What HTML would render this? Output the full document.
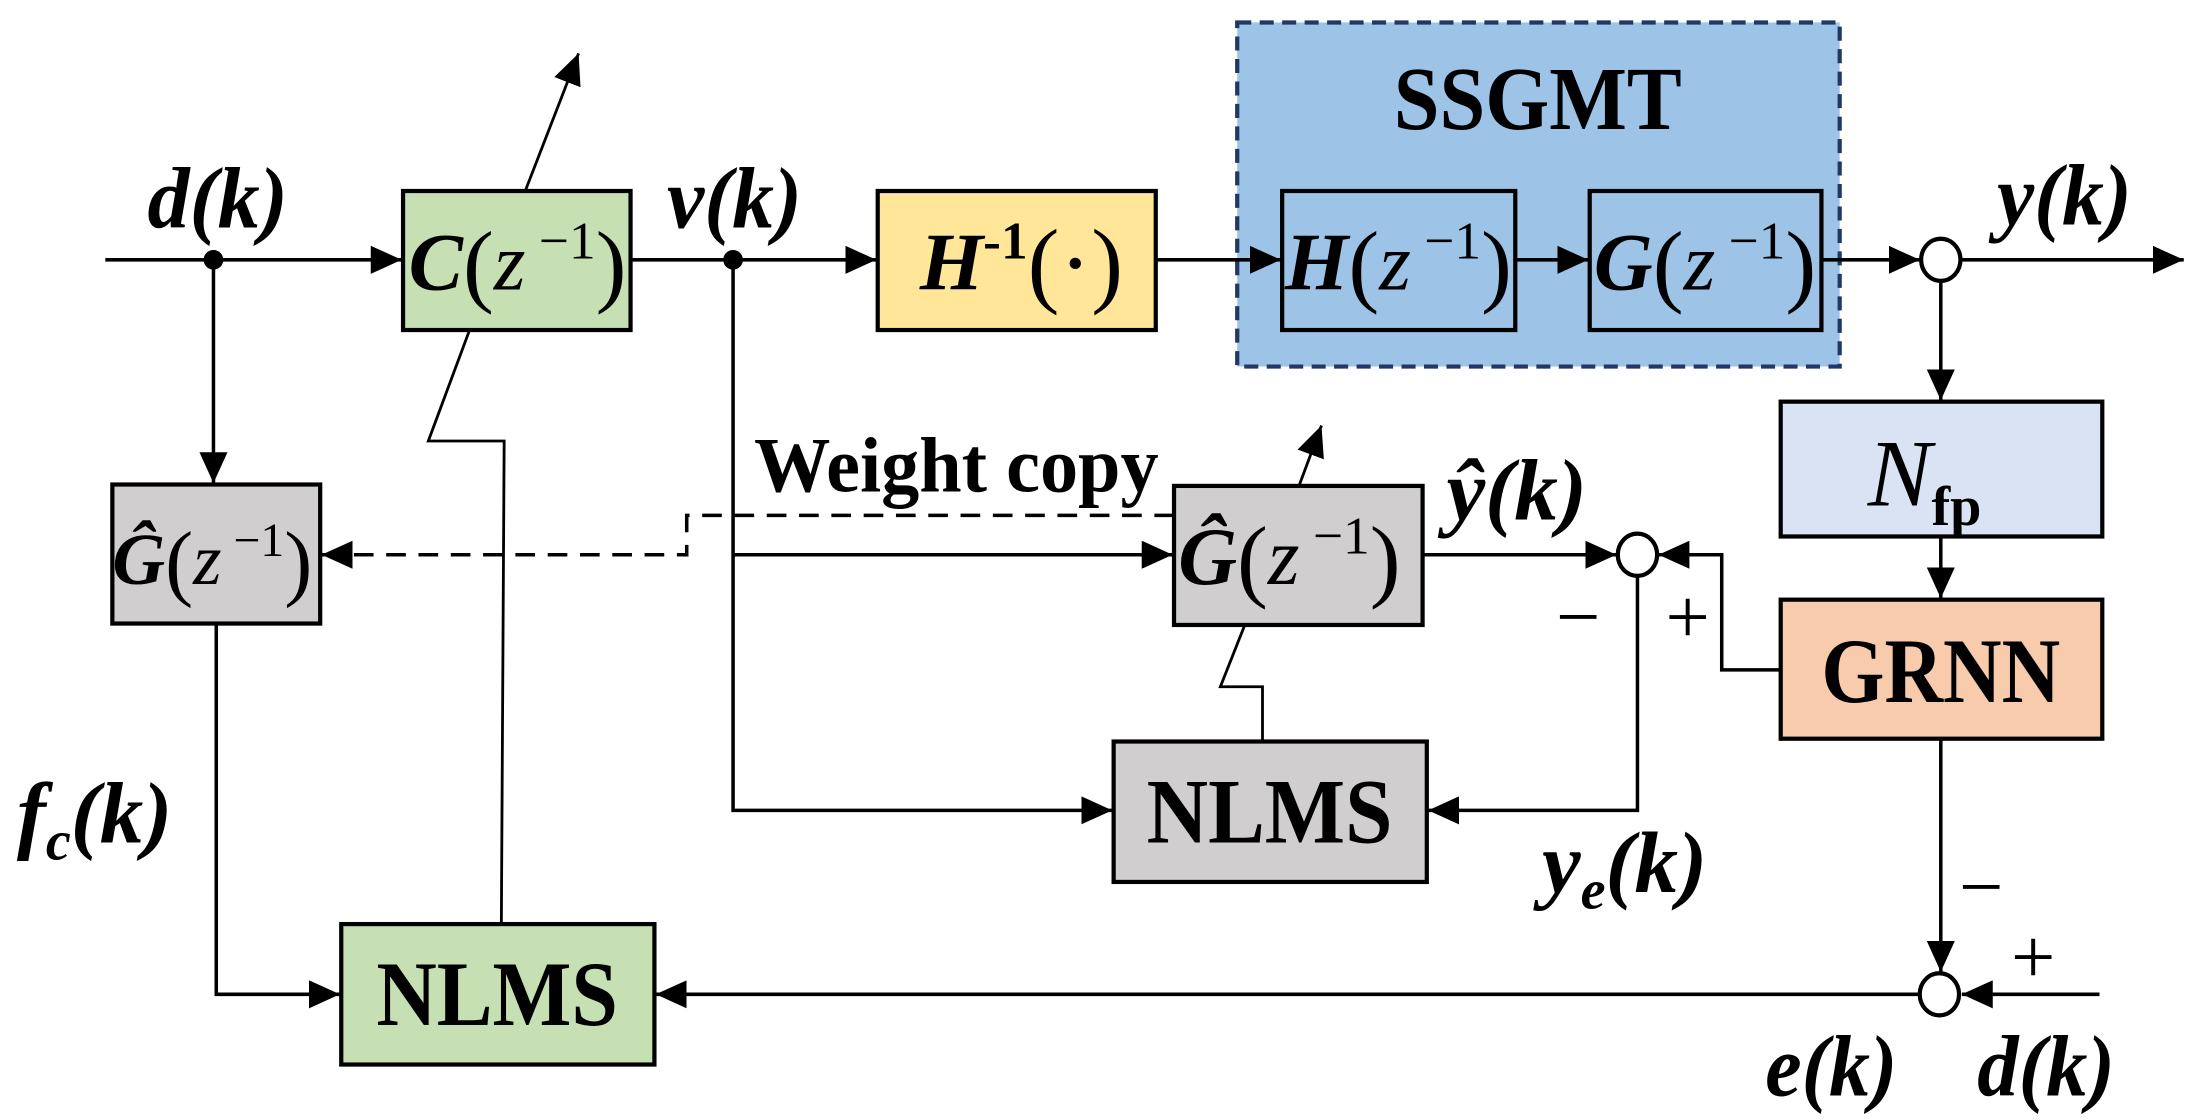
<!DOCTYPE html>
<html><head><meta charset="utf-8"><style>
html,body{margin:0;padding:0;background:#fff;}
svg{display:block;}
text{font-family:"Liberation Serif",serif;fill:#000;}
.bi{font-style:italic;font-weight:bold;}
.i{font-style:italic;}
.b{font-weight:bold;}
</style></head><body>
<svg width="2202" height="1120" viewBox="0 0 1568 797.5" preserveAspectRatio="none" xmlns="http://www.w3.org/2000/svg">
<defs>
<marker id="a" markerUnits="userSpaceOnUse" markerWidth="24" markerHeight="20" refX="22" refY="10" orient="auto">
<path d="M0,0 L22,10 L0,20 Z" fill="#000"/>
</marker>
</defs>
<rect x="881" y="16" width="429" height="245" fill="#9dc3e6" stroke="#1f3864" stroke-width="3" stroke-dasharray="10,6"/>
<text x="1095" y="92" font-size="64" text-anchor="middle" class="b" textLength="205" lengthAdjust="spacingAndGlyphs">SSGMT</text>

<rect x="287" y="136" width="162" height="99" fill="#c6e0b4" stroke="#000" stroke-width="3"/>
<rect x="625" y="136" width="198" height="99" fill="#ffe699" stroke="#000" stroke-width="3"/>
<rect x="913" y="136" width="166" height="99" fill="#9dc3e6" stroke="#000" stroke-width="3"/>
<rect x="1132" y="136" width="165" height="99" fill="#9dc3e6" stroke="#000" stroke-width="3"/>
<rect x="1268" y="286" width="229" height="96" fill="#dae3f3" stroke="#000" stroke-width="3"/>
<rect x="1268" y="427" width="229" height="99" fill="#f8cbad" stroke="#000" stroke-width="3"/>
<rect x="80" y="345" width="148" height="99" fill="#d0cece" stroke="#000" stroke-width="3"/>
<rect x="836" y="346" width="177" height="99" fill="#d0cece" stroke="#000" stroke-width="3"/>
<rect x="793" y="528" width="223" height="100" fill="#d0cece" stroke="#000" stroke-width="3"/>
<rect x="243" y="658" width="223" height="100" fill="#c6e0b4" stroke="#000" stroke-width="3"/>

<g stroke="#000" stroke-width="2.5" fill="none">
<line x1="75" y1="185" x2="286" y2="185" marker-end="url(#a)"/>
<line x1="449" y1="185" x2="624" y2="185" marker-end="url(#a)"/>
<line x1="823" y1="185" x2="912" y2="185" marker-end="url(#a)"/>
<line x1="1079" y1="185" x2="1131" y2="185" marker-end="url(#a)"/>
<line x1="1297" y1="185" x2="1367" y2="185" marker-end="url(#a)"/>
<line x1="1396" y1="185" x2="1555" y2="185" marker-end="url(#a)"/>
<line x1="1382" y1="200" x2="1382" y2="285" marker-end="url(#a)"/>
<line x1="1382" y1="382" x2="1382" y2="426" marker-end="url(#a)"/>
<line x1="1382" y1="526" x2="1382" y2="692" marker-end="url(#a)"/>
<line x1="1495" y1="708" x2="1397" y2="708" marker-end="url(#a)"/>
<line x1="1367" y1="708" x2="467" y2="708" marker-end="url(#a)"/>
<line x1="152" y1="185" x2="152" y2="344" marker-end="url(#a)"/>
<polyline points="154,444 154,708 242,708" marker-end="url(#a)"/>
<polyline points="522,185 522,577 792,577" marker-end="url(#a)"/>
<line x1="522" y1="395" x2="835" y2="395" marker-end="url(#a)"/>
<line x1="1013" y1="395" x2="1151" y2="395" marker-end="url(#a)"/>
<polyline points="1268,477 1226,477 1226,395 1181,395" marker-end="url(#a)"/>
<polyline points="1166,410 1166,577 1017,577" marker-end="url(#a)"/>
<line x1="374" y1="136" x2="412" y2="38" stroke-width="2" marker-end="url(#a)"/>
<polyline points="334,236 305,314 359,314 357,658" stroke-width="2"/>
<line x1="925" y1="346" x2="941" y2="303" stroke-width="2" marker-end="url(#a)"/>
<polyline points="886,446 869,489 899,489 899,528" stroke-width="2"/>
<polyline points="836,367 489,367 489,395 229,395" stroke-dasharray="14,9" marker-end="url(#a)"/>
</g>
<circle cx="152" cy="185" r="7" fill="#000"/>
<circle cx="522" cy="185" r="7" fill="#000"/>
<ellipse cx="1382" cy="185" rx="14" ry="15" fill="#fff" stroke="#000" stroke-width="3"/>
<ellipse cx="1166" cy="395" rx="14" ry="15" fill="#fff" stroke="#000" stroke-width="3"/>
<ellipse cx="1381" cy="708" rx="14" ry="15" fill="#fff" stroke="#000" stroke-width="3"/>

<g font-size="58">
<text x="291" y="206"><tspan class="bi">C</tspan><tspan font-size="66" dy="4">(</tspan><tspan class="i" dy="-4">z</tspan><tspan dy="-22" font-size="38"> −1</tspan><tspan dy="26" font-size="66">)</tspan></text>
<text x="655" y="206"><tspan class="bi">H</tspan><tspan class="b" dy="-22" font-size="38">-1</tspan><tspan dy="26" font-size="68">(·)</tspan></text>
<text x="915" y="206"><tspan class="bi">H</tspan><tspan font-size="66" dy="4">(</tspan><tspan class="i" dy="-4">z</tspan><tspan dy="-22" font-size="38"> −1</tspan><tspan dy="26" font-size="66">)</tspan></text>
<text x="1135" y="206"><tspan class="bi">G</tspan><tspan font-size="66" dy="4">(</tspan><tspan class="i" dy="-4">z</tspan><tspan dy="-22" font-size="38"> −1</tspan><tspan dy="26" font-size="66">)</tspan></text>
<text x="80" y="416" font-size="52"><tspan class="bi">Ĝ</tspan><tspan font-size="60" dy="4">(</tspan><tspan class="i" dy="-4">z</tspan><tspan dy="-20" font-size="34"> −1</tspan><tspan dy="24" font-size="60">)</tspan></text>
<text x="839" y="416"><tspan class="bi">Ĝ</tspan><tspan font-size="66" dy="4">(</tspan><tspan class="i" dy="-4">z</tspan><tspan dy="-22" font-size="38"> −1</tspan><tspan dy="26" font-size="66">)</tspan></text>
<text x="1330" y="360" class="i" font-size="68">N<tspan class="b" font-style="normal" font-size="40" dy="14">fp</tspan></text>
</g>
<g font-size="66" class="b" text-anchor="middle">
<text x="1382" y="500" textLength="170" lengthAdjust="spacingAndGlyphs">GRNN</text>
<text x="904" y="600" textLength="175" lengthAdjust="spacingAndGlyphs">NLMS</text>
<text x="354" y="730" textLength="172" lengthAdjust="spacingAndGlyphs">NLMS</text>
</g>
<text x="537" y="350" font-size="56" class="b" textLength="288" lengthAdjust="spacingAndGlyphs">Weight copy</text>

<g font-size="62" class="bi">
<text x="105" y="162" textLength="100" lengthAdjust="spacingAndGlyphs">d(k)</text>
<text x="475" y="162" textLength="96" lengthAdjust="spacingAndGlyphs">v(k)</text>
<text x="1422" y="160" textLength="96" lengthAdjust="spacingAndGlyphs">y(k)</text>
<text x="1030" y="370" textLength="100" lengthAdjust="spacingAndGlyphs">ŷ(k)</text>
<text x="12" y="600">f<tspan font-size="40" dy="12">c</tspan><tspan dy="-12">(k)</tspan></text>
<text x="1098" y="635">y<tspan font-size="40" dy="12">e</tspan><tspan dy="-12">(k)</tspan></text>
<text x="1257" y="780" textLength="94" lengthAdjust="spacingAndGlyphs">e(k)</text>
<text x="1408" y="780" textLength="98" lengthAdjust="spacingAndGlyphs">d(k)</text>
</g>
<g font-size="56" font-family="Liberation Sans">
<text x="1108" y="458">−</text>
<text x="1186" y="458">+</text>
<text x="1395" y="650">−</text>
<text x="1432" y="700">+</text>
</g>
</svg>
</body></html>
